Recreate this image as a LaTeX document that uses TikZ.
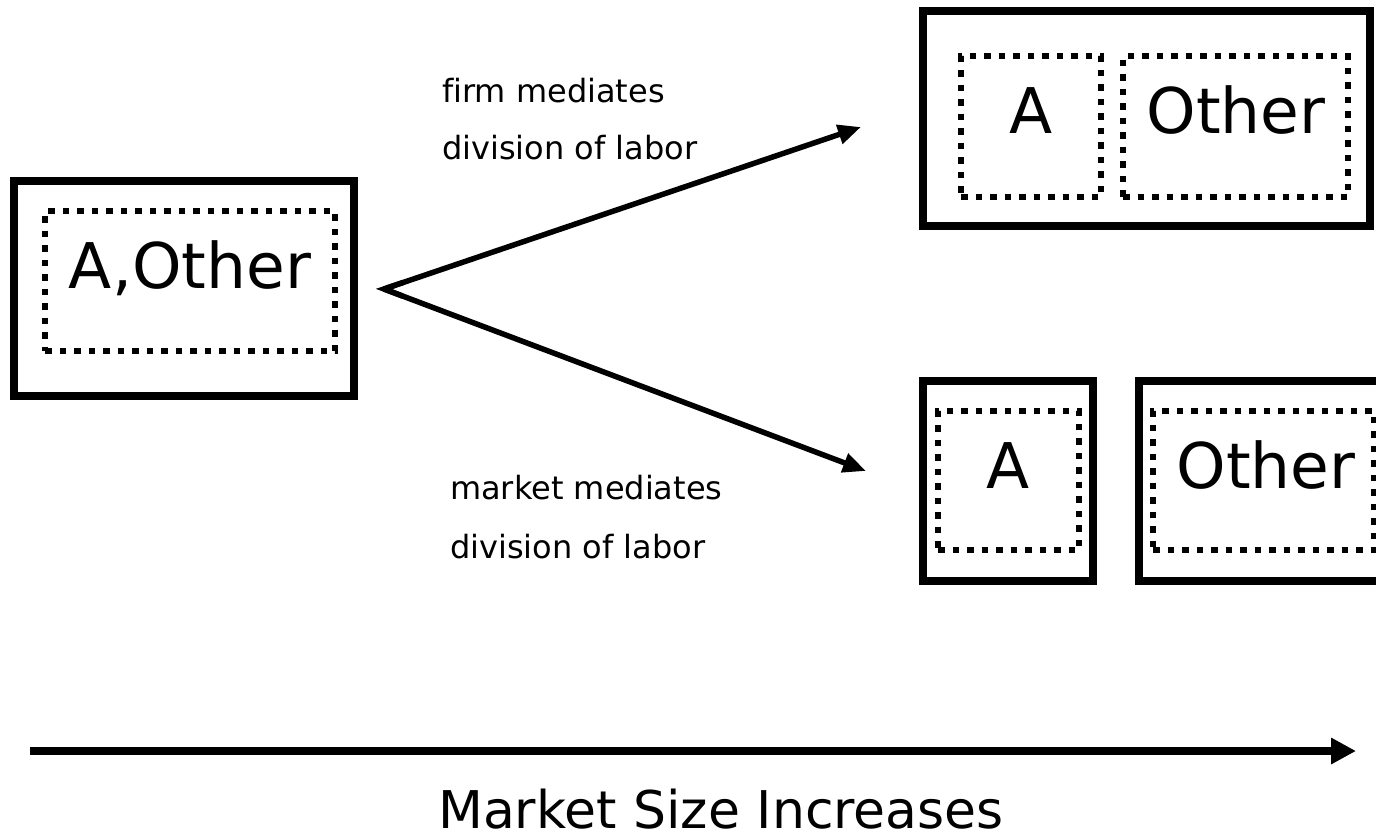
\documentclass[tikz,border=0pt]{standalone}
\usepackage{fontspec}
\setmainfont[Ligatures=NoCommon]{DejaVu Sans}
\usetikzlibrary{arrows.meta,calc}
\begin{document}
\begin{tikzpicture}[x=1pt,y=-1pt,
  outerbox/.style={draw=black,line width=8.5pt,inner sep=0pt,outer sep=0pt,minimum width=#1},
  dotbox/.style={draw=black,line width=6.5pt,dash pattern=on 6.5pt off 8pt,inner sep=0pt,outer sep=0pt,minimum width=#1},
  bigtxt/.style={anchor=base,inner sep=0pt,font=\fontsize{63}{75}\selectfont},
  lbl/.style={anchor=base west,inner sep=0pt,font=\fontsize{32}{38}\selectfont},
  conn/.style={line width=5.5pt,-{Triangle[length=23pt,width=19pt]}}
]
\useasboundingbox (0,0) rectangle (1376,835);
\begin{scope}
\clip (0,0) rectangle (1376,835);
% left
\node[outerbox=340pt,minimum height=215pt] (L) at (184,288.5) {};
\node[dotbox=290pt,minimum height=140pt] (Li) at (190,281) {};
\node[bigtxt] (Lt) at (190,288) {A,Other};
% top right
\node[outerbox=447pt,minimum height=215pt] (T) at (1146.5,118.5) {};
\node[dotbox=140pt,minimum height=141pt] (TA) at (1031,126.5) {};
\node[dotbox=225pt,minimum height=141pt] (TO) at (1235.5,126.5) {};
\node[bigtxt] (TAt) at (1031,133) {A};
\node[bigtxt] (TOt) at (1236,133) {Other};
% bottom right
\node[outerbox=170pt,minimum height=200pt] (BA) at (1008,481) {};
\node[dotbox=141pt,minimum height=139pt] (BAi) at (1008.5,480.5) {};
\node[bigtxt] (BAt) at (1008,488) {A};
\node[outerbox=249pt,minimum height=200pt] (BO) at (1263.5,481) {};
\node[dotbox=221pt,minimum height=139pt] (BOi) at (1263.5,480.5) {};
\node[bigtxt] (BOt) at (1266,488) {Other};
% connectors
\coordinate (apex) at (384,289);
\coordinate (tip1) at (861,127);
\coordinate (tip2) at (866,471);
\draw[conn] (apex) -- (tip1);
\draw[conn] (apex) -- (tip2);
\draw[line width=5.5pt,line join=miter] ($(apex)!20pt!(tip1)$) -- (apex) -- ($(apex)!20pt!(tip2)$);
% labels
\node[lbl] (l1) at (442,102) {firm mediates};
\node[lbl] (l2) at (442,159) {division of labor};
\node[lbl] (l3) at (450,499) {market mediates};
\node[lbl] (l4) at (450,558) {division of labor};
% market size axis
\coordinate (ax0) at (30,751);
\coordinate (ax1) at (1356,751);
\draw[line width=8pt,-{Triangle[length=25pt,width=25pt]}] (ax0) -- (ax1);
\node[anchor=base,inner sep=0pt,font=\fontsize{52}{62}\selectfont] (ms) at (721,828) {Market Size Increases};
\end{scope}
\end{tikzpicture}
\end{document}
